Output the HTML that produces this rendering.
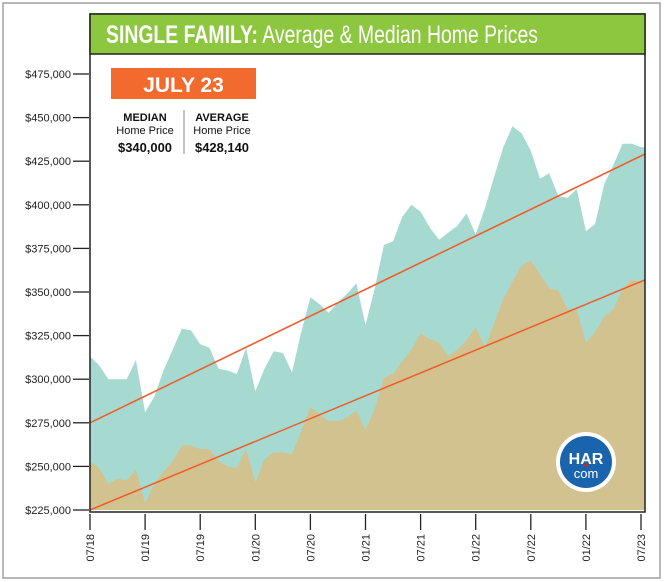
<!DOCTYPE html>
<html><head><meta charset="utf-8">
<style>
body{margin:0;background:#fff;font-family:"Liberation Sans",sans-serif}
svg{display:block}
</style></head>
<body>
<svg width="665" height="582" viewBox="0 0 665 582">
<rect x="3" y="3" width="657" height="575" fill="#fff" stroke="#a0a0a0" stroke-width="1.5"/>
<g id="plot"></g>
<rect x="90" y="14" width="555" height="498" fill="none" stroke="#222" stroke-width="1.5"/>
<rect x="90" y="14" width="555" height="40" fill="#8dc63f" stroke="#222" stroke-width="1.5"/>
<text x="106" y="43" fill="#fff" font-size="25" textLength="432" lengthAdjust="spacingAndGlyphs"><tspan font-weight="bold">SINGLE FAMILY:</tspan> Average &amp; Median Home Prices</text>
<rect x="111" y="68" width="145" height="31" fill="#f26a2e"/>
<text x="183.5" y="92" fill="#fff" font-size="21" font-weight="bold" text-anchor="middle">JULY 23</text>
<line x1="184" y1="110" x2="184" y2="154" stroke="#888" stroke-width="1"/>
<g font-size="11" text-anchor="middle" fill="#111">
<text x="145" y="121" font-weight="bold">MEDIAN</text>
<text x="145" y="134">Home Price</text>
<text x="145" y="152" font-weight="bold" font-size="12.5" textLength="54" lengthAdjust="spacingAndGlyphs">$340,000</text>
</g>
<g font-size="11" text-anchor="middle" fill="#111">
<text x="222" y="121" font-weight="bold">AVERAGE</text>
<text x="222" y="134">Home Price</text>
<text x="222" y="152" font-weight="bold" font-size="12.5" textLength="54" lengthAdjust="spacingAndGlyphs">$428,140</text>
</g>
<g id="yaxis"></g>
<g id="xaxis"></g>
<g>
<circle cx="586" cy="462" r="30" fill="#fff"/>
<circle cx="586" cy="462" r="26" fill="#1a63ad"/>
<text x="586" y="464" fill="#fff" font-size="16" font-weight="bold" text-anchor="middle">HAR</text>
<circle cx="586" cy="465" r="1.8" fill="#e21b23"/>
<text x="586" y="478" fill="#fff" font-size="13" text-anchor="middle">com</text>
</g>
</svg>
<script>
const avgValues=[313,308,300,300,300,311,281,290,305,317,329,328,320,318,306,305,303,318,293,306,316,315,304,327,347,343,338,344,349,355,331,352,377,379,393,400,396,387,380,384,388,395,383,398,416,433,445,441,431,415,418,405,404,409,385,389,412,423,435,435,433];
const medianValues=[253,249,240,243,242,248,229,240,247,253,262,262,260,260,253,250,249,260,241,254,258,258,257,270,284,280,276,276,278,282,271,283,301,303,310,317,326,323,321,313,317,322,330,318,332,346,356,365,368,360,352,351,340,340,321,327,336,340,352,357,356];
const avgTrend=[275,428];
const medianTrend=[225,356];
const yTicks=[225,250,275,300,325,350,375,400,425,450,475];
const xLabels=["07/18","01/19","07/19","01/20","07/20","01/21","07/21","01/22","07/22","01/22","07/23"];
const NS="http://www.w3.org/2000/svg";
const X0=90,X1=641,Y0=510,Y1=74,VMIN=225,VMAX=475;
const n=avgValues.length;
function xs(i){return X0+(X1-X0)*i/(n-1);}
function ys(v){return Y0-(v-VMIN)*(Y0-Y1)/(VMAX-VMIN);}
const plot=document.getElementById('plot');
function area(vals,fill,name){
  let d='M'+xs(0)+','+Y0;
  vals.forEach((v,i)=>{d+=' L'+xs(i).toFixed(1)+','+ys(v).toFixed(1);});
  d+=' L645,'+ys(vals[n-1]).toFixed(1)+' L645,'+Y0+' Z';
  const p=document.createElementNS(NS,'path');
  p.setAttribute('d',d);p.setAttribute('fill',fill);
  
  
  plot.appendChild(p);
}
area(avgValues,'#a6dad0','average-price-area');
area(medianValues,'#d1c290','median-price-area');
function trend(t,name){
  const l=document.createElementNS(NS,'line');
  l.setAttribute('x1',X0);l.setAttribute('y1',ys(t[0]));
  l.setAttribute('x2',645);l.setAttribute('y2',ys(t[0]+(t[1]-t[0])*(645-X0)/(X1-X0)));
  l.setAttribute('stroke','#f05a28');l.setAttribute('stroke-width','1.5');
  
  
  plot.appendChild(l);
}
trend(avgTrend,'average-trend-line');
trend(medianTrend,'median-trend-line');
const ya=document.getElementById('yaxis');
yTicks.forEach(v=>{
  const y=ys(v);
  const l=document.createElementNS(NS,'line');
  l.setAttribute('x1',73);l.setAttribute('x2',89);l.setAttribute('y1',y);l.setAttribute('y2',y);
  l.setAttribute('stroke','#222');l.setAttribute('stroke-width','1.3');
  
  
  ya.appendChild(l);
  const t=document.createElementNS(NS,'text');
  t.setAttribute('x',71);t.setAttribute('y',y+4);t.setAttribute('text-anchor','end');
  t.setAttribute('font-size','11');t.setAttribute('fill','#222');
  t.textContent='$'+v+',000';
  
  
  ya.appendChild(t);
});
const xa=document.getElementById('xaxis');
xLabels.forEach((s,k)=>{
  const x=xs(k*6);
  const l=document.createElementNS(NS,'line');
  l.setAttribute('x1',x);l.setAttribute('x2',x);l.setAttribute('y1',514);l.setAttribute('y2',530);
  l.setAttribute('stroke','#222');l.setAttribute('stroke-width','1.3');
  
  
  xa.appendChild(l);
  const t=document.createElementNS(NS,'text');
  t.setAttribute('x',0);t.setAttribute('y',0);t.setAttribute('text-anchor','end');
  t.setAttribute('font-size','11');t.setAttribute('fill','#222');
  t.setAttribute('transform','translate('+(x+4)+',534) rotate(-90)');
  t.textContent=s;
  
  
  xa.appendChild(t);
});
</script>
</body></html>
